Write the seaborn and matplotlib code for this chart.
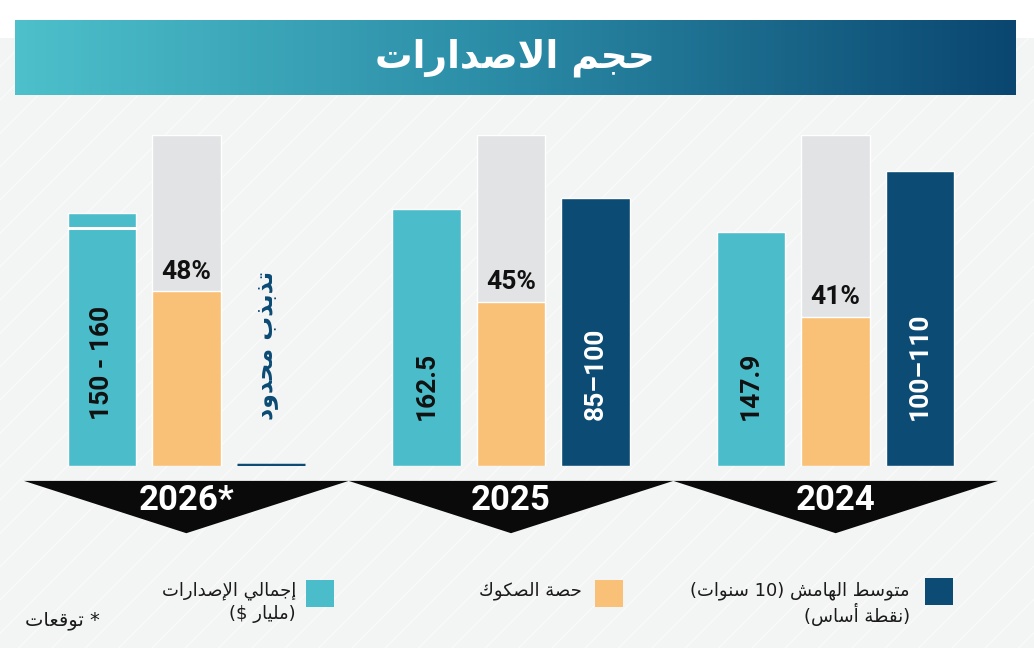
import re
import numpy as np
import pandas as pd
import matplotlib
matplotlib.use('Agg')
import matplotlib.pyplot as plt
import seaborn as sns
from matplotlib.colors import LinearSegmentedColormap
from matplotlib.patches import Rectangle, Polygon

# --- Data ---
years = ['2026*', '2025', '2024']
total_issuance = [160, 162.5, 147.9]     # bn $, 2026 is the top of the 150-160 forecast
total_low_2026 = 150
sukuk_share = [48, 45, 41]               # %
spread_bp = [0, 100, 110]                # top of range, bp (2026: limited volatility)
total_labels = ['150 - 160', '162.5', '147.9']
share_labels = ['48%', '45%', '41%']
spread_labels = [None, '85–100', '100–110']

# value that fills the full grey track for each series
scale_top = {'total': 209, 'share': 91, 'spread': 123.5}

TITLE = 'حجم الاصدارات'
LIMITED = 'تذبذب محدود'
LEG_TOTAL = ['إجمالي الإصدارات', '(مليار $)']
LEG_SHARE = ['حصة الصكوك']
LEG_SPREAD = ['متوسط الهامش (10 سنوات)', '(نقطة أساس)']
FOOTNOTE = '* توقعات'

# --- Style ---
TEAL = '#4bbdca'
ORANGE = '#f9c077'
GREY = '#e2e3e5'
NAVY = '#0b4b74'
BG = '#f3f4f4'
NUM_FONT = ['Roboto', 'DejaVu Sans']
AR_FONT = ['DejaVu Sans']

sns.set_style('white')
plt.rcParams['font.family'] = ['DejaVu Sans']

# --- minimal Arabic shaping (matplotlib has no complex text layout) ---
FORMS = {
    'ا': ('\uFE8D', '\uFE8E'), 'أ': ('\uFE83', '\uFE84'), 'إ': ('\uFE87', '\uFE88'),
    'ب': ('\uFE8F', '\uFE90', '\uFE91', '\uFE92'), 'ة': ('\uFE93', '\uFE94'),
    'ت': ('\uFE95', '\uFE96', '\uFE97', '\uFE98'), 'ج': ('\uFE9D', '\uFE9E', '\uFE9F', '\uFEA0'),
    'ح': ('\uFEA1', '\uFEA2', '\uFEA3', '\uFEA4'), 'د': ('\uFEA9', '\uFEAA'),
    'ذ': ('\uFEAB', '\uFEAC'), 'ر': ('\uFEAD', '\uFEAE'),
    'س': ('\uFEB1', '\uFEB2', '\uFEB3', '\uFEB4'), 'ش': ('\uFEB5', '\uFEB6', '\uFEB7', '\uFEB8'),
    'ص': ('\uFEB9', '\uFEBA', '\uFEBB', '\uFEBC'), 'ط': ('\uFEC1', '\uFEC2', '\uFEC3', '\uFEC4'),
    'ع': ('\uFEC9', '\uFECA', '\uFECB', '\uFECC'), 'ق': ('\uFED5', '\uFED6', '\uFED7', '\uFED8'),
    'ك': ('\uFED9', '\uFEDA', '\uFEDB', '\uFEDC'), 'ل': ('\uFEDD', '\uFEDE', '\uFEDF', '\uFEE0'),
    'م': ('\uFEE1', '\uFEE2', '\uFEE3', '\uFEE4'), 'ن': ('\uFEE5', '\uFEE6', '\uFEE7', '\uFEE8'),
    'ه': ('\uFEE9', '\uFEEA', '\uFEEB', '\uFEEC'), 'و': ('\uFEED', '\uFEEE'),
    'ي': ('\uFEF1', '\uFEF2', '\uFEF3', '\uFEF4'),
}
LAM_ALEF = {'ا': ('\uFEFB', '\uFEFC'), 'أ': ('\uFEF7', '\uFEF8'), 'إ': ('\uFEF9', '\uFEFA')}


def ar(text):
    """Shape Arabic letters and put the string in visual (left-to-right) order."""
    tokens = []
    i = 0
    while i < len(text):
        c = text[i]
        if c == 'ل' and i + 1 < len(text) and text[i + 1] in LAM_ALEF:
            tokens.append(LAM_ALEF[text[i + 1]])
            i += 2
            continue
        tokens.append(FORMS.get(c, c))
        i += 1
    out = []
    for k, forms in enumerate(tokens):
        if isinstance(forms, str):
            out.append(forms)
            continue
        prev = tokens[k - 1] if k > 0 else None
        nxt = tokens[k + 1] if k + 1 < len(tokens) else None
        join_prev = isinstance(prev, tuple) and len(prev) == 4
        join_next = len(forms) == 4 and isinstance(nxt, tuple)
        if len(forms) == 2:
            out.append(forms[1] if join_prev else forms[0])
        elif join_prev and join_next:
            out.append(forms[3])
        elif join_prev:
            out.append(forms[1])
        elif join_next:
            out.append(forms[2])
        else:
            out.append(forms[0])
    vis = ''.join(out)[::-1]
    vis = vis.translate(str.maketrans('()', ')('))
    vis = re.sub(r'[0-9.]+', lambda m: m.group()[::-1], vis)
    return vis


# --- tables for seaborn ---
series = ['total', 'share', 'spread']
raw = {'total': total_issuance, 'share': sukuk_share, 'spread': spread_bp}
df = pd.DataFrame([
    {'year': y, 'series': s, 'height': raw[s][i] / scale_top[s]}
    for s in series for i, y in enumerate(years)
])
track = df.copy()
track['height'] = np.where(track['series'] == 'share', 1.0, 0.0)

# --- figure ---
fig = plt.figure(figsize=(10.34, 6.66), dpi=100, facecolor='white')

bg = Rectangle((0, 18 / 666), 1, 610 / 666, transform=fig.transFigure,
               facecolor=BG, edgecolor='#fafafa', hatch='/', linewidth=0, zorder=-10)
fig.add_artist(bg)

# title banner with gradient
bax = fig.add_axes([15 / 1034, (666 - 95) / 666, 1000 / 1034, 75 / 666])
cmap = LinearSegmentedColormap.from_list('banner', ['#4dc0cb', '#2a8aa5', '#0a4670'])
bax.imshow(np.linspace(0, 1, 256)[None, :], cmap=cmap, aspect='auto', extent=(0, 1, 0, 1))
bax.set_axis_off()
bax.text(0.5, 0.5, ar(TITLE), transform=bax.transAxes, ha='center', va='center',
         color='white', fontsize=27, fontweight='bold', family=AR_FONT)

# bar area: y=0 at the baseline, y=1 at the top of the grey track
ax = fig.add_axes([24 / 1034, (666 - 466) / 666, 974 / 1034, 331 / 666])
ax.set_facecolor('none')
sns.barplot(data=track, x='year', y='height', hue='series', order=years, hue_order=series,
            palette=[GREY, GREY, GREY], width=0.78, gap=0.19, saturation=1,
            errorbar=None, legend=False, ax=ax)
sns.barplot(data=df, x='year', y='height', hue='series', order=years, hue_order=series,
            palette=[TEAL, ORANGE, NAVY], width=0.78, gap=0.19, saturation=1,
            errorbar=None, legend=False, ax=ax)
ax.set_xlim(-0.5, 2.5)
ax.set_ylim(0, 1)
ax.set_axis_off()

total_bars, share_bars, spread_bars = ax.containers[3], ax.containers[4], ax.containers[5]

for i, bar in enumerate(total_bars):
    cx = bar.get_x() + bar.get_width() / 2
    ax.text(cx, 0.14, total_labels[i], rotation=90, ha='center', va='bottom',
            fontsize=19, fontweight='bold', color='#111111', family=NUM_FONT,
            fontstretch='condensed')
# split of the 2026 forecast range
b = total_bars[0]
ax.hlines(total_low_2026 / scale_top['total'], b.get_x(), b.get_x() + b.get_width(),
          color='white', lw=2.2)

for i, bar in enumerate(share_bars):
    cx = bar.get_x() + bar.get_width() / 2
    ax.text(cx, bar.get_height() + 0.06, share_labels[i], ha='center', va='center',
            fontsize=19, fontweight='bold', color='#111111', family=NUM_FONT,
            fontstretch='condensed')

for i, bar in enumerate(spread_bars):
    cx = bar.get_x() + bar.get_width() / 2
    if spread_labels[i]:
        ax.text(cx, 0.14, spread_labels[i], rotation=90, ha='center', va='bottom',
                fontsize=19, fontweight='bold', color='white', family=NUM_FONT,
                fontstretch='condensed')
    else:
        ax.hlines(0.004, bar.get_x(), bar.get_x() + bar.get_width(), color=NAVY, lw=2.5)
        ax.text(cx - 0.015, 0.14, ar(LIMITED), rotation=90, ha='center', va='bottom',
                fontsize=17, fontweight='bold', color=NAVY, family=AR_FONT)

# year chevrons under the groups
for i, yr in enumerate(years):
    ax.add_patch(Polygon([(i - 0.5, -0.045), (i + 0.5, -0.045), (i, -0.203)],
                         closed=True, facecolor='#0a0a0a', edgecolor='none', clip_on=False))
    ax.text(i, -0.103, yr, ha='center', va='center', color='white', fontsize=25,
            fontweight='bold', family=NUM_FONT, fontstretch='condensed', clip_on=False)

# legend (pixel coordinates)
lax = fig.add_axes([0, 0, 1, 1])
lax.set_xlim(0, 1034)
lax.set_ylim(666, 0)
lax.set_axis_off()
lax.set_facecolor('none')
legend_items = [
    (TEAL, (306, 580), 296, LEG_TOTAL),
    (ORANGE, (595, 580), 582, LEG_SHARE),
    (NAVY, (925, 578), 910, LEG_SPREAD),
]
for color, (sx, sy), tx, lines in legend_items:
    lax.add_patch(Rectangle((sx, sy), 28, 27, facecolor=color, edgecolor='none'))
    for j, line in enumerate(lines):
        lax.text(tx, 591 + 23 * j, ar(line), ha='right', va='center', fontsize=13,
                 color='#1a1a1a', family=AR_FONT)
lax.text(100, 620, ar(FOOTNOTE), ha='right', va='center', fontsize=14,
         color='#1a1a1a', family=AR_FONT)

fig.savefig('out.png', dpi=100, facecolor='white')
